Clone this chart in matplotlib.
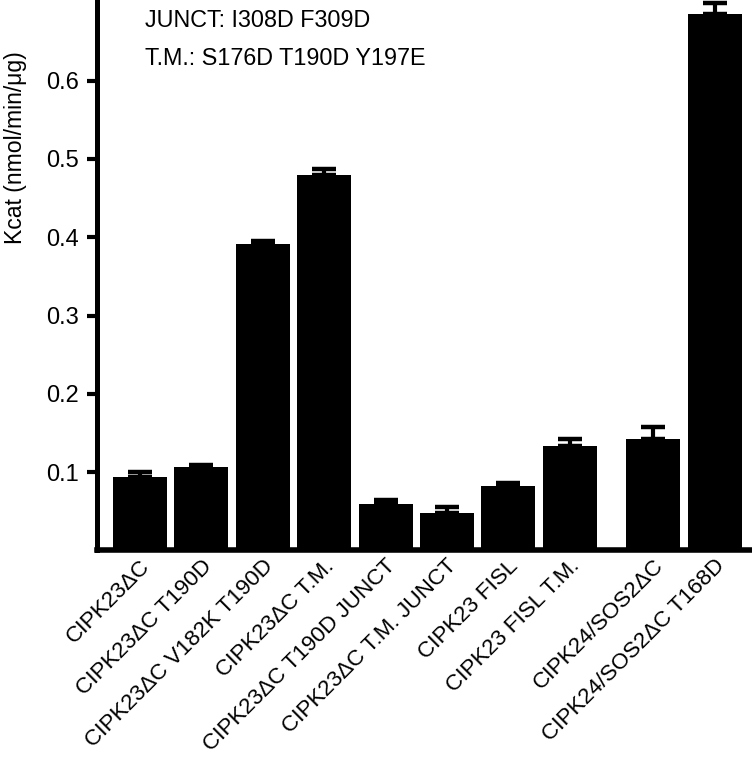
import matplotlib
matplotlib.use('Agg')

import numpy as np
from matplotlib import pyplot as plt
from matplotlib import transforms

plt.rcParams['font.family'] = ['Liberation Sans', 'DejaVu Sans']

labels = ['CIPK23\u0394C',
          'CIPK23\u0394C T190D',
          'CIPK23\u0394C V182K T190D',
          'CIPK23\u0394C T.M.',
          'CIPK23\u0394C T190D JUNCT',
          'CIPK23\u0394C T.M. JUNCT',
          'CIPK23 FISL',
          'CIPK23 FISL T.M.',
          'CIPK24/SOS2\u0394C',
          'CIPK24/SOS2\u0394C T168D']
kcat = [0.094, 0.107, 0.391, 0.479, 0.060, 0.0475, 0.0825, 0.1335, 0.143, 0.685]
sem = [0.006, 0.002, 0.0045, 0.0085, 0.004, 0.008, 0.004, 0.0095, 0.015, 0.014]
yticks = [0.1, 0.2, 0.3, 0.4, 0.5, 0.6]
notes = ['JUNCT: I308D F309D', 'T.M.: S176D T190D Y197E']

# gap before the CIPK24 group
x = np.arange(len(kcat)) + 0.36 * (np.arange(len(kcat)) >= 8)

fig = plt.figure(figsize=(7.52, 7.57), dpi=100)
ax = fig.add_axes([0.1286, 0.2728, 0.870, 0.7241])

ax.bar(x, kcat, width=0.88, color='black')
eb = ax.errorbar(x, kcat, yerr=[np.zeros(len(sem)), sem], fmt='none',
                 ecolor='black', elinewidth=3, capsize=8.5, capthick=3.2)
for a in eb.lines[1]:
    a.set_clip_on(False)
for a in eb.lines[2]:
    a.set_clip_on(False)

ax.set_xlim(-0.705, 9.95)
ax.set_ylim(0, 0.70)
ax.set_yticks(yticks)
ax.set_yticklabels([str(t) for t in yticks], fontsize=17)
ax.set_xticks(x)
ax.set_xticklabels(labels, rotation=45, ha='right', va='center',
                   rotation_mode='anchor', fontsize=16.2)
ax.tick_params(axis='x', length=0, pad=9)
ax.tick_params(axis='y', length=7, width=3, pad=6)
shift = transforms.ScaledTranslation(7 / 100, 0, fig.dpi_scale_trans)
for lab in ax.get_xticklabels():
    lab.set_transform(lab.get_transform() + shift)

for s in ['top', 'right']:
    ax.spines[s].set_visible(False)
ax.spines['left'].set_linewidth(3.6)
ax.spines['bottom'].set_linewidth(4)

ax.set_ylabel('Kcat (nmol/min/\u03bcg)', fontsize=16.6)
ax.yaxis.set_label_coords(-0.106, 0.735)

ax.text(0.074, 0.9546, notes[0], transform=ax.transAxes, fontsize=16.8, va='baseline')
ax.text(0.074, 0.8858, notes[1], transform=ax.transAxes, fontsize=16.8, va='baseline')

plt.savefig('out.png', dpi=100)
